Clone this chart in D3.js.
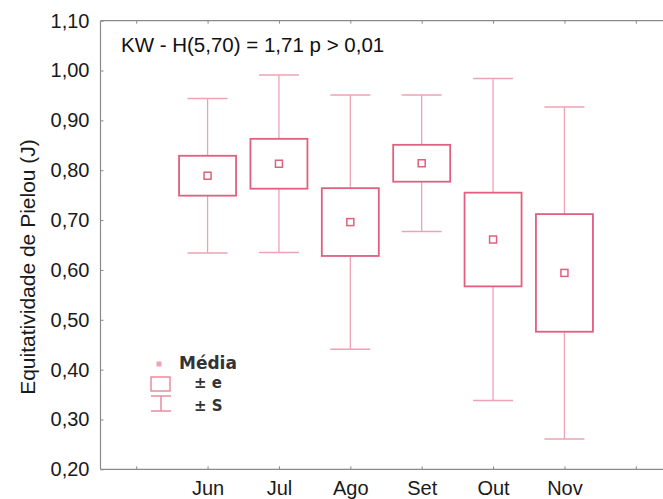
<!DOCTYPE html>
<html>
<head>
<meta charset="utf-8">
<script src="https://cdn.jsdelivr.net/npm/d3@7"></script>
<style>
  html, body { margin: 0; padding: 0; background: #fff; }
  svg { display: block; }
</style>
</head>
<body>
<svg id="chart" width="663" height="499"></svg>
<script>
// Pielou evenness (J) per month: mean, standard error and standard deviation
const months = ["Jun", "Jul", "Ago", "Set", "Out", "Nov"];
const means  = [0.789, 0.813, 0.696, 0.814, 0.661, 0.594];
const stdErr = [0.040, 0.050, 0.068, 0.037, 0.094, 0.118];
const stdDev = [0.155, 0.178, 0.255, 0.137, 0.323, 0.333];
const yTicks = [0.2, 0.3, 0.4, 0.5, 0.6, 0.7, 0.8, 0.9, 1.0, 1.1];
const statText = "KW - H(5,70) = 1,71 p > 0,01";

const rows = months.map((m, i) => ({
  month: m, mean: means[i], se: stdErr[i], sd: stdDev[i]
}));

const svg = d3.select("#chart");
const boxColor = "#e0607f";
const whiskColor = "#eca3b6";
const axisColor = "#8a8a8a";
const font = "'Liberation Sans', Arial, sans-serif";
const fs = 20;

const plot = { left: 100.5, right: 671.5, top: 20.7, bottom: 469.3 };

// one empty slot on each side of the months
const slots = ["_a", ...months, "_b"];
const x = d3.scalePoint().domain(slots).range([plot.left, plot.right]).padding(0.5);
const y = d3.scaleLinear().domain([0.2, 1.1]).range([plot.bottom, plot.top]);

const fmt = v => d3.format(".2f")(v).replace(".", ",");

// frame lines (left, bottom, top)
const frame = svg.append("g").attr("stroke", axisColor).attr("stroke-width", 1.2).attr("fill", "none");
frame.append("line").attr("x1", plot.left).attr("x2", plot.left).attr("y1", plot.top).attr("y2", plot.bottom);
frame.append("line").attr("x1", plot.left).attr("x2", plot.right).attr("y1", plot.bottom).attr("y2", plot.bottom);
frame.append("line").attr("x1", plot.left).attr("x2", plot.right).attr("y1", plot.top).attr("y2", plot.top);

// left axis: inward ticks, labels on the outside
const yAxis = d3.axisLeft(y).tickValues(yTicks).tickFormat(fmt).tickSizeInner(-3).tickSizeOuter(0).tickPadding(11);
const gy = svg.append("g").attr("transform", `translate(${plot.left},0)`).call(yAxis);
gy.select(".domain").remove();
gy.selectAll(".tick line").attr("stroke", axisColor);
gy.selectAll(".tick text").attr("font-family", font).attr("font-size", fs).attr("fill", "#1a1a1a");

// bottom axis
const xAxis = d3.axisBottom(x).tickFormat(d => d.startsWith("_") ? "" : d).tickSizeInner(-3).tickSizeOuter(0).tickPadding(12);
const gx = svg.append("g").attr("transform", `translate(0,${plot.bottom})`).call(xAxis);
gx.select(".domain").remove();
gx.selectAll(".tick line").attr("stroke", axisColor);
gx.selectAll(".tick text").attr("font-family", font).attr("font-size", fs).attr("fill", "#1a1a1a");

// top axis ticks (no labels)
const gt = svg.append("g").attr("transform", `translate(0,${plot.top})`)
  .call(d3.axisTop(x).tickFormat("").tickSizeInner(-3).tickSizeOuter(0));
gt.select(".domain").remove();
gt.selectAll(".tick line").attr("stroke", axisColor);

// y axis title
svg.append("text")
  .attr("transform", `translate(35,${(plot.top + plot.bottom) / 2 + 22}) rotate(-90)`)
  .attr("text-anchor", "middle")
  .attr("font-family", font).attr("font-size", 21).attr("fill", "#1a1a1a")
  .text("Equitatividade de Pielou (J)");

// Kruskal-Wallis statistic
svg.append("text")
  .attr("x", 121).attr("y", 52)
  .attr("font-family", font).attr("font-size", 20.5).attr("fill", "#111")
  .text(statText);

// boxes: mean ± SE, whiskers: mean ± SD
const boxW = 57, capW = 40, markS = 7;
const g = svg.append("g").selectAll("g").data(rows).join("g")
  .attr("transform", d => `translate(${x(d.month)},0)`);

g.append("line").attr("x1", 0).attr("x2", 0)
  .attr("y1", d => y(d.mean + d.sd)).attr("y2", d => y(d.mean + d.se))
  .attr("stroke", whiskColor).attr("stroke-width", 1.3);
g.append("line").attr("x1", 0).attr("x2", 0)
  .attr("y1", d => y(d.mean - d.se)).attr("y2", d => y(d.mean - d.sd))
  .attr("stroke", whiskColor).attr("stroke-width", 1.3);
g.append("line").attr("x1", -capW / 2).attr("x2", capW / 2)
  .attr("y1", d => y(d.mean + d.sd)).attr("y2", d => y(d.mean + d.sd))
  .attr("stroke", whiskColor).attr("stroke-width", 1.5);
g.append("line").attr("x1", -capW / 2).attr("x2", capW / 2)
  .attr("y1", d => y(d.mean - d.sd)).attr("y2", d => y(d.mean - d.sd))
  .attr("stroke", whiskColor).attr("stroke-width", 1.5);
g.append("rect")
  .attr("x", -boxW / 2).attr("width", boxW)
  .attr("y", d => y(d.mean + d.se))
  .attr("height", d => y(d.mean - d.se) - y(d.mean + d.se))
  .attr("fill", "none").attr("stroke", boxColor).attr("stroke-width", 1.8);
g.append("rect")
  .attr("x", -markS / 2).attr("width", markS)
  .attr("y", d => y(d.mean) - markS / 2).attr("height", markS)
  .attr("fill", "none").attr("stroke", boxColor).attr("stroke-width", 1.5);

// legend
const lg = svg.append("g");
const lfont = "'DejaVu Sans', Verdana, sans-serif";
lg.append("rect").attr("x", 156.5).attr("y", 361.5).attr("width", 5).attr("height", 5).attr("fill", "#f0a3b3");
lg.append("text").attr("x", 179).attr("y", 369).attr("font-family", lfont).attr("font-weight", "bold")
  .attr("font-size", 17).attr("fill", "#333").text("Média");
lg.append("rect").attr("x", 151).attr("y", 377).attr("width", 19).attr("height", 14)
  .attr("fill", "none").attr("stroke", "#ee8a9c").attr("stroke-width", 1.5);
lg.append("text").attr("x", 194).attr("y", 388).attr("font-family", lfont).attr("font-weight", "bold")
  .attr("font-size", 15).attr("fill", "#333").text("± e");
const wl = lg.append("g").attr("stroke", "#ee8a9c").attr("stroke-width", 1.5);
wl.append("line").attr("x1", 151).attr("x2", 171).attr("y1", 396).attr("y2", 396);
wl.append("line").attr("x1", 151).attr("x2", 171).attr("y1", 411).attr("y2", 411);
wl.append("line").attr("x1", 161).attr("x2", 161).attr("y1", 396).attr("y2", 411);
lg.append("text").attr("x", 194).attr("y", 411).attr("font-family", lfont).attr("font-weight", "bold")
  .attr("font-size", 15).attr("fill", "#333").text("± S");
</script>
</body>
</html>
